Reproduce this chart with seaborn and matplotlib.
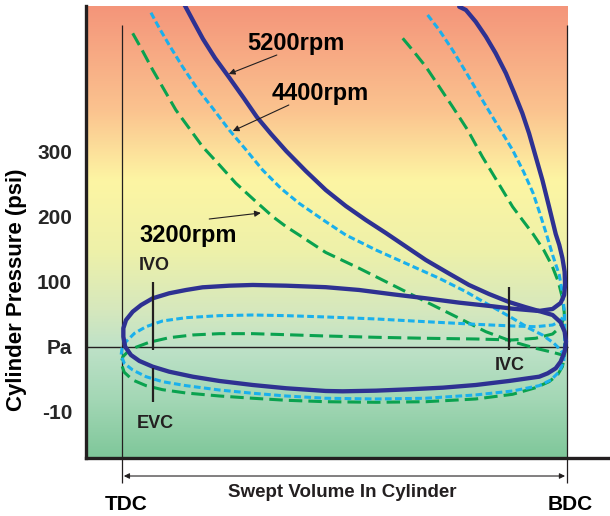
import matplotlib
matplotlib.use('Agg')
import matplotlib.pyplot as plt
import numpy as np
import pandas as pd
import seaborn as sns
from matplotlib.colors import LinearSegmentedColormap

# x = swept volume in % (TDC = 0, BDC = 100)
# y = pressure on the chart's own tick scale (ticks -10, Pa, 100, 200, 300 sit at -100, 0, 100, 200, 300)

# 5200 rpm
rpm5200_exp_x = [13.7, 16.0, 18.2, 20.9, 24.0, 27.2, 30.3, 33.5, 36.9, 41.3, 45.8, 50.3, 54.8, 59.3,
                 63.8, 68.3, 73.3, 78.0, 82.5, 87.0, 90.6, 93.7]
rpm5200_exp_y = [530.8, 501.5, 473.8, 444.6, 415.4, 384.6, 353.9, 327.7, 301.5, 270.8, 241.5, 216.9, 195.4, 175.4,
                 154.6, 133.8, 113.8, 95.4, 81.5, 69.2, 61.5, 55.4]
rpm5200_comp_x = [93.7, 96.8, 98.6, 99.4, 99.6, 99.5, 99.0, 98.3, 97.5, 96.0, 94.5, 93.0, 91.5, 90.0,
                  88.2, 86.3, 84.0, 81.8, 79.5, 77.3, 75.8]
rpm5200_comp_y = [55.4, 58.5, 67.7, 80.0, 95.4, 115.8, 136.9, 156.9, 173.8, 215.8, 256.9, 292.8, 328.8, 359.5,
                  390.3, 421.1, 451.9, 477.4, 500.5, 518.5, 523.5]
rpm5200_loop_x = [93.7, 96.8, 98.6, 99.5, 99.8, 99.5, 98.6, 97.5, 95.7, 93.8, 87.0, 79.5, 72.1, 64.6,
                  57.1, 49.6, 45.8, 36.9, 29.4, 21.9, 15.9, 10.6, 6.9, 3.9, 2.0, 0.7, 0.3, 0.3,
                  0.9, 2.4, 4.3, 6.9, 10.6, 14.4, 18.1, 24.1, 29.4, 36.9, 45.8, 53.3, 60.8, 68.3,
                  75.8, 83.3, 87.8, 93.7]
rpm5200_loop_y = [55.4, 49.2, 38.0, 23.5, 8.2, -7.2, -22.6, -32.8, -40.5, -45.7, -52.3, -58.5, -62.6, -65.1,
                  -67.2, -68.2, -67.7, -63.5, -58.5, -52.3, -45.7, -38.0, -30.3, -21.5, -12.3, 0.5, 15.8, 28.8,
                  41.5, 54.3, 64.6, 74.9, 82.6, 87.7, 91.8, 94.3, 95.4, 94.3, 92.0, 87.7, 81.1, 74.9,
                  68.2, 62.6, 58.9, 55.4]

# 4400 rpm
rpm4400_exp_x = [6.5, 8.4, 10.6, 13.6, 16.6, 20.4, 24.1, 27.9, 31.6, 35.7, 39.8, 45.8, 50.3, 57.1,
                 64.6, 71.3, 77.3, 82.5, 87.8, 91.5, 94.5, 97.1, 98.6, 99.4]
rpm4400_exp_y = [514.3, 490.3, 464.6, 431.2, 400.5, 367.2, 333.8, 303.1, 272.3, 244.2, 221.1, 192.8, 172.3, 149.2,
                 126.2, 105.7, 85.1, 64.6, 44.2, 28.8, 18.5, 5.7, -4.6, -12.3]
rpm4400_loop_x = [68.7, 71.3, 74.3, 77.7, 81.0, 84.4, 87.8, 90.3, 92.4, 93.9, 95.4, 96.8, 98.3, 99.1,
                  99.5, 99.5, 99.5, 99.3, 98.3, 96.4, 93.8, 87.8, 79.5, 68.3, 57.1, 45.8, 36.9, 29.4,
                  21.9, 14.4, 9.1, 5.4, 2.4, 0.5, -0.2, 0.0, 0.9, 2.8, 5.4, 9.1, 14.4, 21.9,
                  29.4, 36.9, 45.8, 57.1, 68.3, 79.5, 87.8, 93.0, 96.8, 98.6, 99.3]
rpm4400_loop_y = [510.8, 487.7, 456.9, 418.5, 380.0, 341.5, 303.1, 269.2, 236.9, 206.2, 173.8, 141.5, 110.8, 80.0,
                  49.2, 18.5, -2.0, -22.6, -38.0, -50.8, -59.5, -67.7, -73.8, -78.9, -80.0, -78.9, -75.4, -71.2,
                  -66.2, -59.5, -53.4, -45.7, -35.4, -25.1, -12.3, -2.0, 8.2, 21.1, 31.2, 40.0, 45.1, 48.2,
                  49.2, 48.2, 46.2, 43.1, 38.9, 34.9, 32.3, 31.2, 33.8, 40.0, 49.2]

# 3200 rpm
rpm3200_exp_x = [2.4, 4.3, 6.9, 9.5, 12.1, 15.1, 18.1, 21.9, 25.6, 29.7, 33.9, 36.9, 39.8, 45.8,
                 53.3, 60.8, 68.3, 75.8, 81.8, 87.8, 93.0, 96.8, 99.0]
rpm3200_exp_y = [482.6, 459.5, 426.2, 395.4, 364.6, 336.5, 308.2, 280.0, 251.8, 226.2, 200.5, 185.1, 172.3, 145.4,
                 121.1, 95.4, 69.7, 44.2, 23.5, 8.2, -2.0, -8.2, -12.3]
rpm3200_loop_x = [63.1, 65.3, 68.3, 71.3, 74.3, 77.7, 81.0, 84.4, 87.8, 90.1, 92.4, 94.8, 96.7, 98.1,
                  99.0, 99.4, 99.5, 99.5, 99.5, 99.0, 97.9, 96.0, 93.0, 87.8, 79.5, 68.3, 57.1, 45.8,
                  36.9, 29.4, 21.9, 14.4, 9.1, 5.4, 2.4, 0.5, -0.2, 0.2, 1.3, 3.1, 6.1, 10.6,
                  15.9, 21.9, 29.4, 36.9, 45.8, 57.1, 68.3, 79.5, 87.8, 93.0, 96.8, 98.6, 99.3]
rpm3200_loop_y = [474.9, 456.9, 431.2, 400.5, 369.7, 333.8, 292.8, 254.3, 215.8, 194.6, 173.8, 149.2, 124.6, 100.0,
                  75.4, 53.8, 33.8, 8.2, -12.3, -30.3, -43.1, -53.4, -62.6, -72.8, -80.0, -84.2, -85.1, -84.2,
                  -82.0, -78.9, -75.4, -70.8, -65.7, -59.5, -50.8, -38.9, -25.1, -14.9, -7.2, -0.5, 7.2, 14.3,
                  18.5, 20.5, 20.5, 18.9, 16.9, 14.9, 13.4, 12.3, 10.8, 13.4, 20.0, 31.2, 44.2]

ytick_pos = [-100, 0, 100, 200, 300]
ytick_labels = ['-10', 'Pa', '100', '200', '300']

NAVY = '#2e3192'
BLUE = '#1ab0ec'
GREEN = '#0aa24f'
INK = '#231f20'

sns.set_theme(style='white')
plt.rcParams['font.family'] = ['Liberation Sans', 'DejaVu Sans']
plt.rcParams['font.weight'] = 'bold'

fig = plt.figure(figsize=(6.1, 5.16), dpi=100)
ax = fig.add_axes([86 / 610, 58 / 516, 524 / 610, 452 / 516])
xmin, xmax, ymin, ymax = -8.1, 109.7, -170.8, 524.6
ax.set_xlim(xmin, xmax)
ax.set_ylim(ymin, ymax)

# background gradient, green (bottom) -> yellow -> salmon (top)
grad = LinearSegmentedColormap.from_list('bg', [
    (0.0, '#7fc79a'), (0.128, '#a3d7b5'), (0.246, '#bfe2c8'), (0.327, '#d6e8bd'),
    (0.46, '#eef1a9'), (0.615, '#fdf5a3'), (0.77, '#fbc38f'), (1.0, '#f4957a')])
ax.imshow(np.linspace(0, 1, 256).reshape(-1, 1), cmap=grad, origin='lower', aspect='auto',
          extent=(xmin, 100.2, ymin, ymax), zorder=0)

ax.hlines(0, xmin, 100.2, color=INK, lw=1, zorder=1)
ax.vlines([0, 100], -209, 495, color=INK, lw=0.9, zorder=1, clip_on=False)

curves = [
    (rpm3200_exp_x, rpm3200_exp_y, GREEN, 2.2, (0, (4.4, 2.0))),
    (rpm3200_loop_x, rpm3200_loop_y, GREEN, 2.2, (0, (4.4, 2.0))),
    (rpm4400_exp_x, rpm4400_exp_y, BLUE, 2.2, (0, (2.2, 1.1))),
    (rpm4400_loop_x, rpm4400_loop_y, BLUE, 2.2, (0, (2.2, 1.1))),
    (rpm5200_loop_x, rpm5200_loop_y, NAVY, 3.1, '-'),
    (rpm5200_exp_x, rpm5200_exp_y, NAVY, 3.1, '-'),
    (rpm5200_comp_x, rpm5200_comp_y, NAVY, 3.1, '-'),
]
for cx, cy, col, lw, ls in curves:
    df = pd.DataFrame({'v': cx, 'p': cy})
    sns.lineplot(data=df, x='v', y='p', sort=False, estimator=None, color=col,
                 lw=lw, linestyle=ls, ax=ax, zorder=3,
                 solid_joinstyle='round', dash_joinstyle='round')

# valve event markers
ax.vlines(7.0, -4.6, 100, color=INK, lw=1.6, zorder=4)
ax.vlines(7.0, -84.6, -32.3, color=INK, lw=1.6, zorder=4)
ax.vlines(87.0, -4.6, 92.3, color=INK, lw=1.6, zorder=4)
ax.text(7.2, 126, 'IVO', fontsize=13, ha='center', va='center', color=INK)
ax.text(7.4, -118, 'EVC', fontsize=13, ha='center', va='center', color=INK)
ax.text(87.2, -28, 'IVC', fontsize=13, ha='center', va='center', color=INK)

# rpm labels
arrow = dict(arrowstyle='-|>', color=INK, lw=0.8, mutation_scale=9, shrinkA=0, shrinkB=0)
ax.text(28.1, 456.9, '5200rpm', fontsize=17, ha='left', va='baseline', color='black')
ax.annotate('', xy=(24.0, 420.0), xytext=(34.8, 449.2), arrowprops=arrow)
ax.text(33.7, 380.0, '4400rpm', fontsize=17, ha='left', va='baseline', color='black')
ax.annotate('', xy=(24.9, 332.3), xytext=(37.5, 372.3), arrowprops=arrow)
ax.text(4.0, 161.5, '3200rpm', fontsize=17, ha='left', va='baseline', color='black')
ax.annotate('', xy=(31.2, 206.2), xytext=(19.6, 196.9), arrowprops=arrow)

# swept volume arrow below the axis
ax.annotate('', xy=(0.4, -198.5), xytext=(99.6, -198.5), annotation_clip=False,
            arrowprops=dict(arrowstyle='<|-|>', color=INK, lw=0.8, mutation_scale=8,
                            shrinkA=0, shrinkB=0))
ax.text(49.4, -224.6, 'Swept Volume In Cylinder', fontsize=13.5, ha='center', va='center',
        color=INK, clip_on=False)
ax.text(1.0, -243, 'TDC', fontsize=15, ha='center', va='center', color='black', clip_on=False)
ax.text(100.7, -243, 'BDC', fontsize=15, ha='center', va='center', color='black', clip_on=False)

ax.set_yticks(ytick_pos)
ax.set_yticklabels(ytick_labels, fontsize=15, fontweight='bold')
ax.set_xticks([])
ax.tick_params(axis='y', length=0, pad=10)
ax.set_xlabel('')
ax.set_ylabel('Cylinder Pressure (psi)', fontsize=16, fontweight='bold', color='black')
ax.yaxis.set_label_coords(-0.113, 0.372)

for side in ['top', 'right']:
    ax.spines[side].set_visible(False)
for side in ['left', 'bottom']:
    ax.spines[side].set_color(INK)
    ax.spines[side].set_linewidth(2.4)
    ax.spines[side].set_zorder(5)

fig.savefig('out.png', dpi=100)
